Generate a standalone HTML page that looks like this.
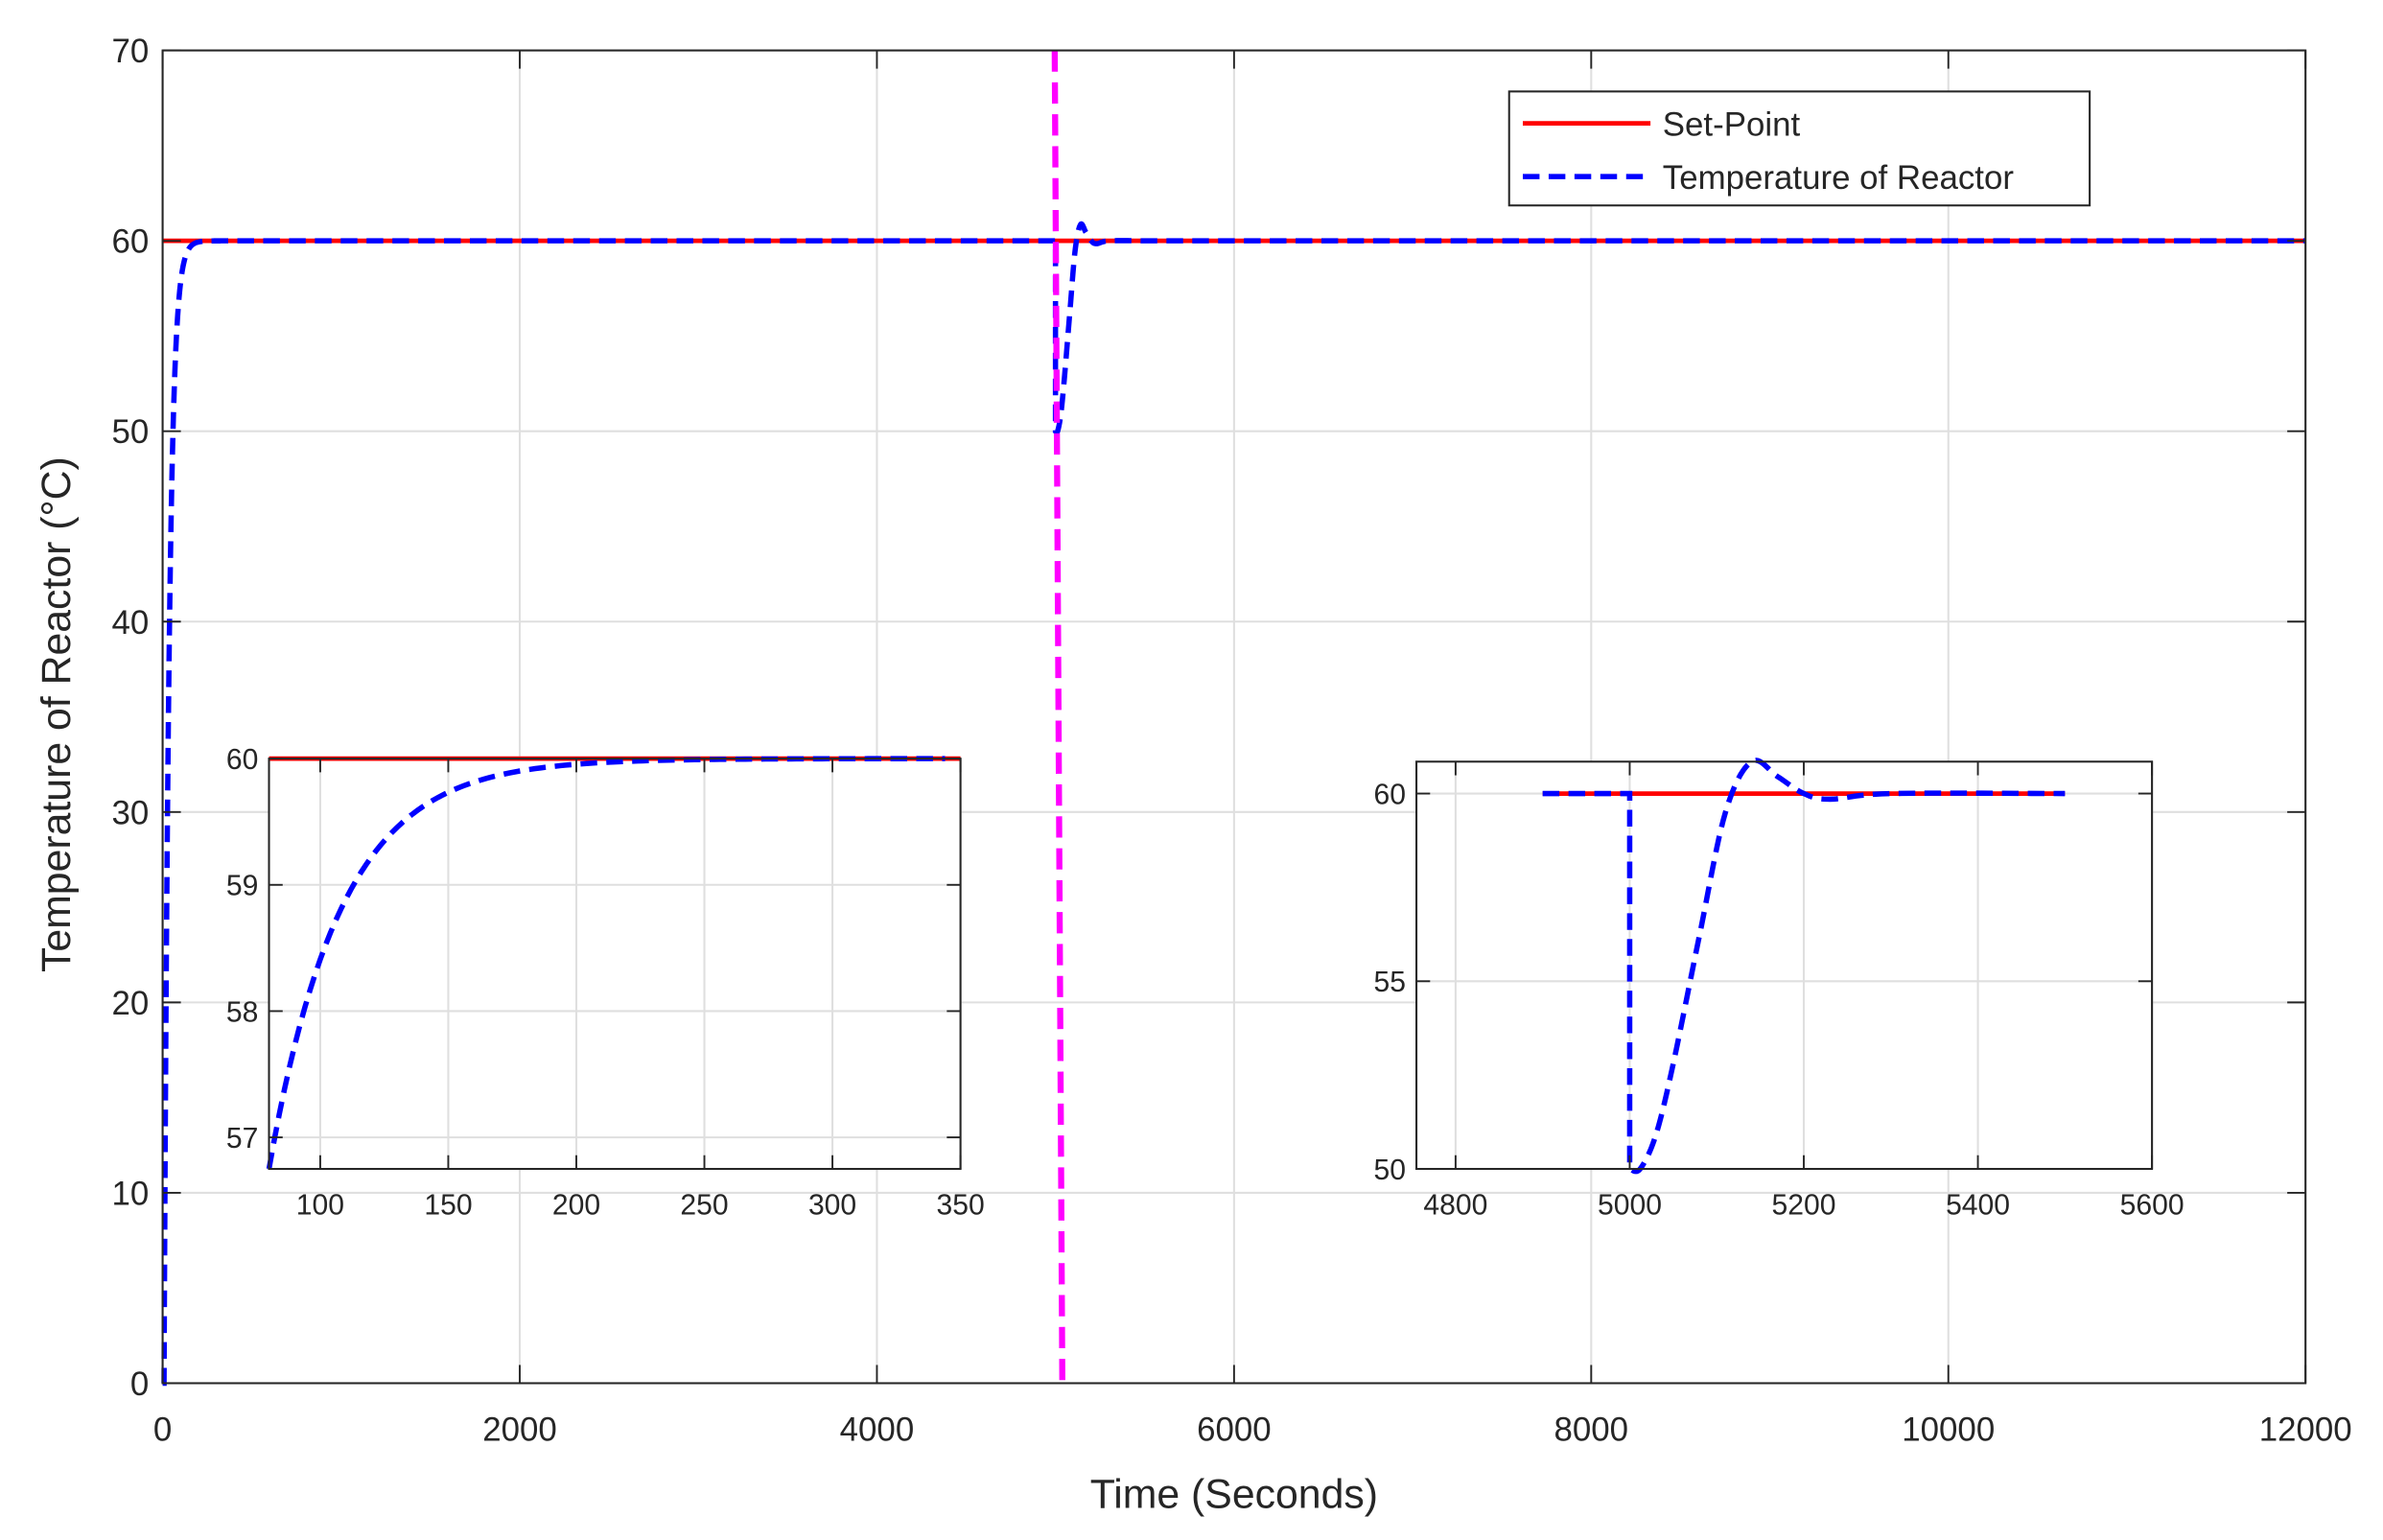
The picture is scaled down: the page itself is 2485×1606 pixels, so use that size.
<!DOCTYPE html>
<html><head><meta charset="utf-8">
<style>html,body{margin:0;padding:0;background:#fff}svg{display:block}
text{font-family:"Liberation Sans",sans-serif;fill:#262626}</style></head>
<body>
<svg id="s" width="2485" height="1606" viewBox="0 0 1568 1013" xmlns="http://www.w3.org/2000/svg">
<rect width="1568" height="1013" fill="#fff"/>
<g id="main"></g>
<g id="in1"></g>
<g id="in2"></g>
</svg>
<script>
const NS="http://www.w3.org/2000/svg";
function el(p,t,a,txt){const e=document.createElementNS(NS,t);for(const k in a)e.setAttribute(k,a[k]);if(txt!==undefined)e.textContent=txt;p.appendChild(e);return e;}
function cr(pts,n){const o=[];for(let i=0;i<pts.length-1;i++){let p0=pts[Math.max(i-1,0)],p1=pts[i],p2=pts[i+1],p3=pts[Math.min(i+2,pts.length-1)];
if(p1[0]===p2[0]){o.push(p1);continue;}
if(p0[0]===p1[0])p0=p1; if(p3[0]===p2[0])p3=p2;
for(let k=0;k<n;k++){const t=k/n,t2=t*t,t3=t2*t;
const f=(a,b,c,d)=>0.5*(2*b+(-a+c)*t+(2*a-5*b+4*c-d)*t2+(-a+3*b-3*c+d)*t3);
o.push([f(p0[0],p1[0],p2[0],p3[0]),f(p0[1],p1[1],p2[1],p3[1])]);}}o.push(pts[pts.length-1]);return o;}
const dist=[[4900,60],[5000,60],[5000,50],[5012,50],[5030,50.9],[5050,52.8],[5080,56.2],[5110,59.5],[5140,60.85],[5170,60.45],[5200,60],[5230,59.85],[5300,60],[5500,60]];
const distS=cr(dist,12);
function axes(g,o){
 const X=v=>o.x0+(v-o.xa)/(o.xb-o.xa)*(o.x1-o.x0), Y=v=>o.y0-(v-o.ya)/(o.yb-o.ya)*(o.y0-o.y1);
 el(g,'rect',{x:o.x0,y:o.y1,width:o.x1-o.x0,height:o.y0-o.y1,fill:'#fff'});
 o.xt.forEach(v=>{const x=X(v);el(g,'line',{x1:x,x2:x,y1:o.y1,y2:o.y0,stroke:'#dfdfdf','stroke-width':1.3});});
 o.yt.forEach(v=>{const y=Y(v);el(g,'line',{x1:o.x0,x2:o.x1,y1:y,y2:y,stroke:'#dfdfdf','stroke-width':1.3});});
 return {X,Y};
}
function frame(g,o,m){
 const {X,Y}=m;const tl=o.tl;
 o.xt.forEach(v=>{const x=X(v);el(g,'line',{x1:x,x2:x,y1:o.y0,y2:o.y0-tl,stroke:'#262626','stroke-width':1.2});el(g,'line',{x1:x,x2:x,y1:o.y1,y2:o.y1+tl,stroke:'#262626','stroke-width':1.2});
  el(g,'text',{x:x,y:o.y0+o.fs+o.dx,'font-size':o.fs,'text-anchor':'middle'},v);});
 o.yt.forEach(v=>{const y=Y(v);el(g,'line',{x1:o.x0,x2:o.x0+tl,y1:y,y2:y,stroke:'#262626','stroke-width':1.2});el(g,'line',{x1:o.x1,x2:o.x1-tl,y1:y,y2:y,stroke:'#262626','stroke-width':1.2});
  el(g,'text',{x:o.x0-o.dy,y:y+o.fs*0.36,'font-size':o.fs,'text-anchor':'end'},v);});
 el(g,'rect',{x:o.x0,y:o.y1,width:o.x1-o.x0,height:o.y0-o.y1,fill:'none',stroke:'#262626','stroke-width':1.3});
}
function path(g,pts,m,st){el(g,'polyline',Object.assign({points:pts.map(p=>m.X(p[0]).toFixed(2)+','+m.Y(p[1]).toFixed(2)).join(' '),fill:'none'},st));}
const red={stroke:'#ff0000','stroke-width':3};
const blue={stroke:'#0000ff','stroke-width':3.5,'stroke-dasharray':'11,6'};
const g=document.getElementById('main');
const mo={x0:107,x1:1517,y0:910,y1:33,xa:0,xb:12000,ya:0,yb:70,xt:[0,2000,4000,6000,8000,10000,12000],yt:[0,10,20,30,40,50,60,70],fs:22,tl:12,dx:16,dy:9};
const m=axes(g,mo);
path(g,[[0,60],[12000,60]],m,red);
let b=[[0,0],[8,0]];for(let t=8;t<=400;t+=2)b.push([t,60-60*Math.exp(-(t-8)/28)]);b.push([4900,60]);
distS.forEach(p=>b.push(p));b.push([12000,60]);
path(g,b,m,blue);
el(g,'line',{x1:694,y1:33,x2:699,y2:910,stroke:'#ff00ff','stroke-width':4,'stroke-dasharray':'14,7'});
frame(g,mo,m);
el(g,'text',{x:812,y:992,'font-size':27,'text-anchor':'middle'},'Time (Seconds)');
el(g,'text',{x:0,y:0,'font-size':27,'text-anchor':'middle',transform:'translate(46,470) rotate(-90)'},'Temperature of Reactor (°C)');
el(g,'rect',{x:993,y:60,width:382,height:75,fill:'#fff',stroke:'#262626','stroke-width':1.3});
el(g,'line',{x1:1002,x2:1086,y1:81,y2:81,stroke:'#ff0000','stroke-width':3});
el(g,'line',{x1:1002,x2:1086,y1:116,y2:116,stroke:'#0000ff','stroke-width':3.5,'stroke-dasharray':'11,6'});
el(g,'text',{x:1094,y:89,'font-size':22},'Set-Point');
el(g,'text',{x:1094,y:124,'font-size':22},'Temperature of Reactor');
const g1=document.getElementById('in1');
const o1={x0:177,x1:632,y0:769,y1:499,xa:80,xb:350,ya:56.75,yb:60,xt:[100,150,200,250,300,350],yt:[57,58,59,60],fs:19,tl:9,dx:11,dy:7};
const m1=axes(g1,o1);
path(g1,[[80,60],[350,60]],m1,red);
let c=[];for(let t=80;t<=345;t+=2)c.push([t,60-3.25*Math.exp(-(t-80)/28)]);
path(g1,c,m1,blue);
frame(g1,o1,m1);
const g2=document.getElementById('in2');
const o2={x0:932,x1:1416,y0:769,y1:501,xa:4755,xb:5600,ya:50,yb:60.85,xt:[4800,5000,5200,5400,5600],yt:[50,55,60],fs:19,tl:9,dx:11,dy:7};
const m2=axes(g2,o2);
path(g2,[[4900,60],[5500,60]],m2,red);
path(g2,distS,m2,blue);
frame(g2,o2,m2);
</script>
</body></html>
